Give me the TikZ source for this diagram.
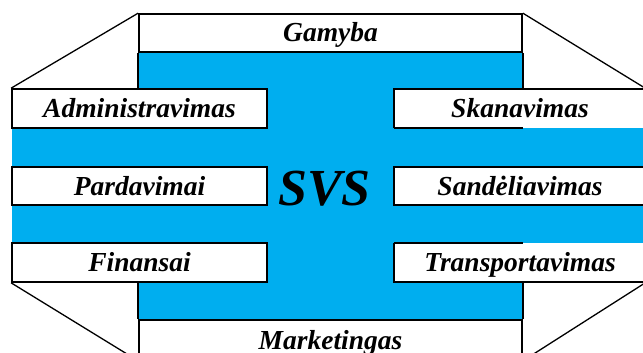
\documentclass[tikz,border=0pt]{standalone}
\usepackage{fontspec}
\setmainfont{Liberation Serif}
\definecolor{svsblue}{RGB}{0,174,239}
\begin{document}
\begin{tikzpicture}[x=1pt,y=-1pt,
  lbl/.style={font=\fontsize{27.5}{30}\selectfont\bfseries\itshape, text height=18pt, text depth=0pt, inner sep=0pt},
  box/.style={lbl, draw, fill=white, line width=1.7pt},
  openbox/.style={lbl, fill=white},
  edge/.style={line width=1.3pt},
  border/.style={line width=1.7pt}]
\useasboundingbox (0,0) rectangle (643,353);
\clip (0,0) rectangle (643,353);
% blue cross
\fill[svsblue] (139,52) rectangle (522,320);
\fill[svsblue] (12,128) rectangle (646,167);
\fill[svsblue] (12,205) rectangle (646,243);
% boxes
\node[box, minimum width=383pt, minimum height=38pt] (gam) at (330.5,33) {Gamyba};
\node[box, minimum width=383pt, minimum height=40pt] (mar) at (330.5,340) {Marketingas};
\node[box, minimum width=255pt, minimum height=39pt] (adm) at (139.5,108.5) {Administravimas};
\node[box, minimum width=255pt, minimum height=38pt] (par) at (139.5,186) {Pardavimai};
\node[box, minimum width=255pt, minimum height=39pt] (fin) at (139.5,262.5) {Finansai};
\node[openbox, minimum width=252pt, minimum height=39pt] (ska) at (520,108.5) {Skanavimas};
\node[box, minimum width=252pt, minimum height=38pt] (san) at (520,186) {Sandėliavimas};
\node[openbox, minimum width=252pt, minimum height=39pt] (tra) at (520,262.5) {Transportavimas};
% open box borders
\draw[border] (ska.south west) -- (ska.north west) -- (ska.north east);
\draw[border] (ska.south west) -- (ska.south -| gam.east);
\draw[border] (tra.north west) -- (tra.south west) -- (tra.south east);
\draw[border] (tra.north west) -- (tra.north -| gam.east);
% corner triangles
\draw[edge] (adm.north west) -- (gam.north west);
\draw[edge] (gam.north east) -- (ska.north east);
\draw[edge] (fin.south west) -- (mar.south west);
\draw[edge] (tra.south east) -- (mar.south east);
\draw[border] (gam.south west) -- (gam.west |- adm.north);
\draw[border] (gam.south east) -- (gam.east |- ska.north);
\draw[border] (mar.north west) -- (mar.west |- fin.south);
\draw[border] (mar.north east) -- (mar.east |- tra.south);
% centre
\node[lbl, font=\fontsize{52}{56}\selectfont\bfseries\itshape, text height=35pt] (svs) at (324.5,188) {SVS};
\end{tikzpicture}
\end{document}
